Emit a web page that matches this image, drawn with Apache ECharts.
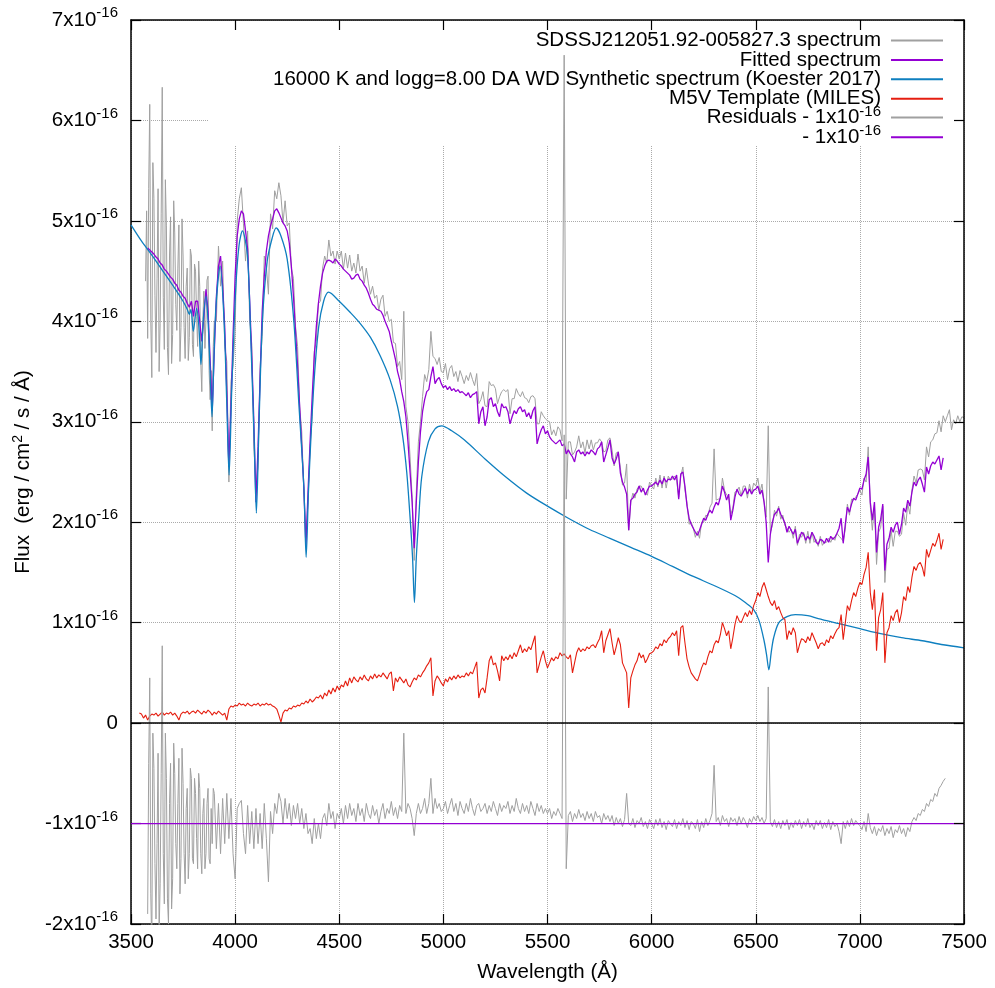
<!DOCTYPE html>
<html><head><meta charset="utf-8">
<script src="https://cdn.jsdelivr.net/npm/echarts@6/dist/echarts.min.js"></script>
<style>html,body{margin:0;padding:0;background:#fff;overflow:hidden}#chart{width:995px;height:988px}</style>
</head><body><div id="chart"></div>
<script>
// Flux values in units of 1e-16 erg/cm2/s/A
const wavelengths = [3540,3550,3560,3570,3580,3590,
3600,3610,3620,3630,3640,3650,3660,3670,3680,3690,
3700,3710,3720,3730,3740,3750,3760,3770,3780,3790,
3800,3810,3820,3830,3840,3850,3860,3870,3880,3890,
3900,3910,3920,3930,3940,3950,3960,3970,3980,3990,
4000,4010,4020,4030,4040,4050,4060,4070,4080,4090,
4100,4110,4120,4130,4140,4150,4160,4170,4180,4190,
4200,4210,4220,4230,4240,4250,4260,4270,4280,4290,
4300,4310,4320,4330,4340,4350,4360,4370,4380,4390,
4400,4410,4420,4430,4440,4450,4460,4470,4480,4490,
4500,4510,4520,4530,4540,4550,4560,4570,4580,4590,
4600,4610,4620,4630,4640,4650,4660,4670,4680,4690,
4700,4710,4720,4730,4740,4750,4760,4770,4780,4790,
4800,4810,4820,4830,4840,4850,4860,4870,4880,4890,
4900,4910,4920,4930,4940,4950,4960,4970,4980,4990,
5000,5010,5020,5030,5040,5050,5060,5070,5080,5090,
5100,5110,5120,5130,5140,5150,5160,5170,5180,5190,
5200,5210,5220,5230,5240,5250,5260,5270,5280,5290,
5300,5310,5320,5330,5340,5350,5360,5370,5380,5390,
5400,5410,5420,5430,5440,5450,5460,5470,5480,5490,
5500,5510,5520,5530,5540,5550,5560,5570,5580,5590,
5600,5610,5620,5630,5640,5650,5660,5670,5680,5690,
5700,5710,5720,5730,5740,5750,5760,5770,5780,5790,
5800,5810,5820,5830,5840,5850,5860,5870,5880,5890,
5900,5910,5920,5930,5940,5950,5960,5970,5980,5990,
6000,6010,6020,6030,6040,6050,6060,6070,6080,6090,
6100,6110,6120,6130,6140,6150,6160,6170,6180,6190,
6200,6210,6220,6230,6240,6250,6260,6270,6280,6290,
6300,6310,6320,6330,6340,6350,6360,6370,6380,6390,
6400,6410,6420,6430,6440,6450,6460,6470,6480,6490,
6500,6510,6520,6530,6540,6550,6560,6570,6580,6590,
6600,6610,6620,6630,6640,6650,6660,6670,6680,6690,
6700,6710,6720,6730,6740,6750,6760,6770,6780,6790,
6800,6810,6820,6830,6840,6850,6860,6870,6880,6890,
6900,6910,6920,6930,6940,6950,6960,6970,6980,6990,
7000,7010,7020,7030,7040,7050,7060,7070,7080,7090,
7100,7110,7120,7130,7140,7150,7160,7170,7180,7190,
7200,7210,7220,7230,7240,7250,7260,7270,7280,7290,
7300,7310,7320,7330,7340,7350,7360,7370,7380,7390,
7400,7410,7420,7430,7440,7450,7460,7470,7480,7490,
7500];

// extra in-between wavelengths in the noisy blue end
const blueEndWavelengths = [3575,3585,3595,3605,3615,3625,3635,3645,3655,3665,3675,3685,3695,
3705,3715,3725,3735,3745,3755,3765,3775,3785,3795,3805,3815,3825,3835,3845,3855,3865,3875,3885,3895];

// observed spectrum, starts at 3570
const observedFlux = [4.40,3.83,6.16,
3.44,5.22,3.69,5.32,3.98,6.33,3.72,4.95,3.47,5.04,
3.87,4.88,3.91,4.96,3.94,4.65,3.63,4.53,3.84,4.65,
3.65,4.50,3.75,4.35,3.30,4.30,4.02,4.45,3.22,2.91,
4.00,4.00,4.75,4.35,4.60,3.75,3.60,2.40,3.40,3.55,
3.90,5.00,5.22,5.33,4.97,4.60,4.90,4.00,3.77,2.75,
2.35,2.55,3.55,3.85,4.65,4.55,4.27,5.07,4.92,5.30,
5.22,5.38,5.25,4.98,5.20,4.95,4.98,4.53,4.43,3.95,
3.75,3.15,2.90,2.30,1.85,2.20,2.75,3.05,3.70,3.80,
4.18,4.20,4.53,4.65,4.58,4.81,4.65,4.70,4.57,4.70,
4.62,4.70,4.52,4.68,4.53,4.66,4.50,4.58,4.48,4.67,
4.50,4.55,4.38,4.53,4.38,4.27,4.35,4.23,4.26,4.11,
4.22,4.26,4.05,4.10,4.00,4.02,3.79,3.78,3.55,3.60,
3.42,4.10,3.15,3.00,2.65,2.25,1.62,2.30,2.80,3.00,
3.25,3.47,3.40,3.52,3.90,3.65,3.63,3.57,3.64,3.50,
3.49,3.58,3.42,3.53,3.56,3.45,3.50,3.40,3.51,3.45,
3.38,3.46,3.41,3.49,3.42,3.36,3.48,3.18,3.22,3.30,
3.16,3.15,3.40,3.36,3.37,3.33,3.18,3.25,3.30,3.32,
3.30,3.32,3.08,3.23,3.23,3.33,3.28,3.25,3.30,3.24,
3.23,3.19,3.25,3.26,3.23,2.98,2.98,3.10,3.06,3.03,
3.01,3.00,2.87,2.92,2.86,2.95,2.92,2.81,6.65,2.23,
2.80,2.80,2.67,2.70,2.75,2.86,2.74,2.80,2.69,2.82,
2.73,2.82,2.72,2.79,2.79,2.83,2.80,2.70,2.71,2.82,
2.84,2.72,2.56,2.69,2.70,2.54,2.37,2.39,2.58,1.92,
2.20,2.29,2.24,2.33,2.36,2.36,2.31,2.29,2.27,2.40,
2.36,2.33,2.44,2.35,2.47,2.34,2.46,2.34,2.46,2.42,
2.43,2.46,2.42,2.25,2.46,2.55,2.32,2.19,1.98,2.00,
1.94,1.85,1.91,1.84,2.00,2.00,2.07,2.06,2.15,2.19,
2.73,2.22,2.23,2.23,2.44,2.32,2.27,2.25,2.08,2.14,
2.30,2.31,2.35,2.26,2.36,2.36,2.24,2.38,2.29,2.39,
2.36,2.44,2.30,2.38,2.20,2.05,2.96,1.90,1.97,2.12,
2.06,2.16,2.03,2.07,1.97,1.94,1.90,1.93,1.84,1.96,
1.77,1.88,1.85,1.90,1.79,1.91,1.79,1.90,1.80,1.83,
1.76,1.86,1.77,1.80,1.80,1.84,1.80,1.85,1.82,1.89,
1.86,1.84,1.81,1.93,2.18,2.07,2.23,2.22,2.25,2.28,
2.32,2.27,2.44,2.40,2.75,2.16,1.92,2.17,1.58,1.90,
1.95,2.16,1.40,1.73,1.74,1.92,1.76,1.91,1.91,1.86,
1.88,2.09,1.97,2.18,2.08,2.32,2.46,2.39,2.52,2.53,
2.52,2.42,2.75,2.65,2.80,2.82,2.88,2.89,3.01,2.90,
3.06,3.00,3.06,3.12,2.92,3.02,2.98,3.06,3.00,3.05,
3.04];
// observed values at blueEndWavelengths (3575..3895)
const observedBlueEnd = [5.10,5.32,4.00,5.58,4.26,4.43,3.50,5.07,4.24,5.41,3.74,4.66,3.58,
5.20,4.17,4.53,3.60,5.02,3.94,4.35,3.61,4.72,3.77,4.57,4.05,4.60,3.60,4.02,3.73,4.41,3.51,3.51,3.75];

// fitted spectrum, starts at 3580
const fittedFlux = [4.73,4.71,
4.69,4.67,4.64,4.62,4.58,4.56,4.52,4.50,4.47,4.44,
4.42,4.38,4.36,4.31,4.29,4.25,4.23,4.18,4.14,4.20,
4.05,4.20,4.20,4.00,3.80,4.05,4.32,4.10,3.62,3.11,
3.70,4.25,4.55,4.65,4.35,3.95,3.30,2.55,3.15,3.85,
4.45,4.85,5.02,5.10,5.07,4.90,4.72,4.20,3.65,3.00,
2.20,2.75,3.45,4.10,4.45,4.70,4.85,4.95,5.02,5.10,
5.12,5.08,5.03,4.98,4.95,4.90,4.78,4.55,4.25,3.90,
3.55,3.15,2.75,2.35,1.75,2.30,2.80,3.25,3.65,3.95,
4.18,4.35,4.48,4.55,4.60,4.61,4.60,4.58,4.62,4.60,
4.57,4.55,4.52,4.50,4.48,4.46,4.42,4.43,4.46,4.47,
4.42,4.40,4.36,4.33,4.28,4.22,4.17,4.15,4.12,4.11,
4.10,4.06,4.00,3.95,3.90,3.80,3.71,3.62,3.50,3.42,
3.30,3.20,3.05,2.80,2.50,2.20,1.74,2.20,2.60,2.90,
3.10,3.22,3.30,3.32,3.45,3.55,3.38,3.42,3.44,3.38,
3.34,3.36,3.32,3.35,3.31,3.33,3.30,3.32,3.29,3.30,
3.28,3.26,3.29,3.24,3.27,3.28,3.30,2.98,3.10,3.15,
2.96,3.05,3.22,3.24,3.15,3.18,3.10,3.05,3.18,3.14,
3.15,3.10,2.98,3.05,3.11,3.08,3.13,3.15,3.10,3.12,
3.05,3.09,3.03,3.11,3.15,2.78,2.86,2.92,2.96,2.88,
2.91,2.85,2.82,2.80,2.78,2.80,2.82,2.76,2.78,2.68,
2.72,2.68,2.65,2.60,2.70,2.72,2.68,2.70,2.66,2.70,
2.68,2.72,2.70,2.67,2.73,2.75,2.80,2.60,2.67,2.74,
2.82,2.64,2.58,2.63,2.70,2.49,2.40,2.35,2.28,1.92,
2.22,2.24,2.28,2.30,2.36,2.30,2.34,2.27,2.32,2.36,
2.36,2.38,2.40,2.37,2.42,2.38,2.44,2.40,2.43,2.42,
2.46,2.42,2.47,2.23,2.48,2.50,2.36,2.16,2.04,1.98,
1.94,1.90,1.87,1.92,1.98,2.04,2.02,2.08,2.12,2.09,
2.15,2.20,2.17,2.25,2.36,2.30,2.22,2.28,2.02,2.12,
2.25,2.33,2.28,2.26,2.30,2.34,2.28,2.33,2.28,2.32,
2.33,2.36,2.28,2.32,2.20,2.00,1.60,1.88,2.00,2.08,
2.10,2.14,2.08,2.04,1.99,1.90,1.96,1.92,1.88,1.93,
1.79,1.84,1.90,1.88,1.82,1.86,1.83,1.90,1.86,1.80,
1.78,1.83,1.82,1.79,1.84,1.80,1.86,1.83,1.85,1.89,
1.94,2.04,1.79,1.98,2.15,2.10,2.18,2.24,2.22,2.28,
2.34,2.33,2.42,2.48,2.65,2.20,2.02,2.20,1.70,1.95,
2.03,2.18,1.52,1.78,1.84,1.95,1.90,1.97,2.00,1.88,
1.98,2.14,2.10,2.22,2.16,2.30,2.40,2.36,2.42,2.45,
2.38,2.30,2.55,2.48,2.56,2.60,2.58,2.62,2.66,2.52,
2.64];

// M5V template, starts at 3540
const templateFlux = [0.10,0.09,0.05,0.08,0.03,0.07,
0.09,0.08,0.10,0.07,0.09,0.11,0.08,0.10,0.09,0.11,
0.08,0.10,0.07,0.03,0.09,0.11,0.10,0.12,0.09,0.11,
0.12,0.10,0.13,0.11,0.09,0.12,0.10,0.13,0.11,0.08,
0.11,0.09,0.12,0.10,0.08,0.10,0.03,0.14,0.17,0.16,
0.18,0.17,0.20,0.18,0.19,0.17,0.20,0.18,0.17,0.19,
0.18,0.20,0.17,0.19,0.18,0.20,0.18,0.19,0.17,0.16,
0.14,0.08,0.01,0.10,0.13,0.12,0.15,0.14,0.17,0.16,
0.18,0.17,0.20,0.19,0.22,0.20,0.24,0.21,0.23,0.26,
0.25,0.28,0.24,0.30,0.27,0.33,0.29,0.35,0.31,0.37,
0.33,0.38,0.36,0.42,0.37,0.45,0.40,0.46,0.43,0.41,
0.46,0.43,0.48,0.44,0.42,0.47,0.44,0.49,0.45,0.48,
0.46,0.50,0.47,0.44,0.49,0.51,0.32,0.45,0.41,0.46,
0.43,0.40,0.44,0.38,0.36,0.41,0.45,0.43,0.48,0.46,
0.50,0.53,0.57,0.60,0.65,0.27,0.42,0.47,0.44,0.40,
0.37,0.44,0.41,0.46,0.43,0.47,0.44,0.48,0.45,0.47,
0.46,0.50,0.47,0.51,0.49,0.55,0.61,0.25,0.33,0.35,
0.30,0.45,0.62,0.67,0.58,0.60,0.52,0.42,0.67,0.62,
0.66,0.63,0.68,0.64,0.70,0.66,0.72,0.78,0.70,0.74,
0.71,0.76,0.73,0.80,0.87,0.50,0.58,0.66,0.72,0.62,
0.55,0.60,0.65,0.62,0.66,0.64,0.70,0.67,0.69,0.66,
0.64,0.68,0.50,0.60,0.70,0.75,0.71,0.74,0.72,0.76,
0.74,0.77,0.78,0.75,0.80,0.84,0.92,0.70,0.82,0.88,
0.94,0.80,0.68,0.76,0.85,0.78,0.60,0.55,0.50,0.15,
0.45,0.52,0.58,0.62,0.70,0.65,0.68,0.60,0.64,0.69,
0.70,0.72,0.76,0.74,0.79,0.77,0.83,0.80,0.84,0.86,
0.90,0.87,0.92,0.67,0.95,0.97,0.80,0.64,0.56,0.50,
0.47,0.44,0.42,0.48,0.55,0.60,0.58,0.66,0.72,0.70,
0.78,0.82,0.80,0.88,1.00,0.94,0.87,0.92,0.74,0.85,
0.98,1.07,1.02,1.00,1.05,1.10,1.06,1.12,1.08,1.17,
1.22,1.30,1.26,1.35,1.40,1.33,1.26,1.20,1.17,1.22,
1.13,1.16,1.10,1.05,1.03,0.83,0.92,0.88,0.95,0.90,
0.70,0.78,0.84,0.83,0.80,0.86,0.82,0.90,0.85,0.80,
0.74,0.79,0.80,0.77,0.83,0.80,0.87,0.84,0.89,0.93,
0.95,1.08,0.83,1.00,1.17,1.12,1.22,1.30,1.26,1.34,
1.40,1.38,1.48,1.55,1.70,1.30,1.13,1.33,0.72,1.05,
1.13,1.30,0.60,0.90,0.95,1.07,1.02,1.10,1.13,1.00,
1.10,1.26,1.22,1.36,1.30,1.45,1.56,1.52,1.58,1.60,
1.55,1.46,1.73,1.65,1.72,1.79,1.76,1.82,1.89,1.73,
1.83];

// residuals (already offset by -1e-16), starts at 3580
const residualFlux = [-1.90,0.45,
-2.25,-0.45,-1.95,-0.30,-1.60,0.77,-1.80,-0.55,-2.00,-0.40,
-1.55,-0.50,-1.45,-0.35,-1.35,-0.60,-1.60,-0.65,-1.30,-0.55,
-1.40,-0.70,-1.45,-0.65,-1.50,-0.75,-1.30,-0.65,-1.40,-1.20,
-0.70,-1.25,-0.80,-1.30,-0.75,-1.20,-0.70,-1.15,-0.75,-1.30,
-1.55,-0.85,-0.80,-0.77,-1.10,-1.30,-0.82,-1.20,-0.88,-1.25,
-0.85,-1.20,-0.90,-1.25,-0.80,-1.15,-1.58,-0.88,-1.10,-0.80,
-0.90,-0.70,-0.78,-1.00,-0.75,-0.95,-0.80,-1.02,-0.82,-0.95,
-0.80,-1.00,-0.85,-1.05,-0.90,-1.10,-1.05,-1.20,-0.95,-1.15,
-1.00,-1.15,-0.95,-0.90,-1.02,-0.80,-0.95,-0.88,-1.05,-0.90,
-0.95,-0.85,-1.00,-0.82,-0.95,-0.80,-0.92,-0.85,-0.98,-0.80,
-0.92,-0.85,-0.98,-0.80,-0.90,-0.95,-0.82,-0.92,-0.86,-1.00,
-0.88,-0.80,-0.95,-0.85,-0.90,-0.78,-0.92,-0.84,-0.95,-0.82,
-0.88,-0.10,-0.90,-0.80,-0.85,-0.95,-1.12,-0.90,-0.80,-0.90,
-0.85,-0.75,-0.90,-0.80,-0.55,-0.90,-0.75,-0.85,-0.80,-0.88,
-0.85,-0.78,-0.90,-0.82,-0.75,-0.88,-0.80,-0.92,-0.78,-0.85,
-0.90,-0.80,-0.88,-0.75,-0.85,-0.92,-0.82,-0.80,-0.88,-0.85,
-0.80,-0.90,-0.82,-0.88,-0.78,-0.85,-0.92,-0.80,-0.88,-0.82,
-0.85,-0.78,-0.90,-0.82,-0.88,-0.75,-0.85,-0.90,-0.80,-0.88,
-0.82,-0.90,-0.78,-0.85,-0.92,-0.80,-0.88,-0.82,-0.90,-0.85,
-0.90,-0.85,-0.95,-0.88,-0.92,-0.85,-0.90,-0.95,2.87,-1.45,
-0.92,-0.88,-0.98,-0.90,-0.95,-0.86,-0.94,-0.90,-0.97,-0.88,
-0.95,-0.90,-0.98,-0.88,-0.94,-0.92,-1.00,-0.90,-0.96,-0.92,
-0.98,-0.92,-1.02,-0.94,-1.00,-0.95,-1.03,-0.96,-0.70,-1.00,
-1.02,-0.95,-1.04,-0.97,-1.00,-0.94,-1.03,-0.98,-1.05,-0.96,
-1.00,-1.05,-0.96,-1.02,-0.95,-1.04,-0.98,-1.06,-0.97,-1.00,
-1.03,-0.96,-1.05,-0.98,-1.02,-0.95,-1.04,-0.97,-1.06,-0.98,
-1.00,-1.05,-0.96,-1.08,-0.98,-1.04,-0.95,-1.02,-0.97,-0.90,
-0.42,-0.98,-0.94,-1.02,-0.92,-0.98,-0.95,-1.03,-0.94,-0.98,
-0.95,-1.02,-0.93,-1.00,-0.94,-0.98,-1.04,-0.95,-0.99,-0.93,
-0.97,-0.92,-0.98,-0.94,-1.00,-0.95,0.36,-0.98,-1.03,-0.96,
-1.04,-0.98,-1.05,-0.97,-1.02,-0.96,-1.06,-0.99,-1.04,-0.97,
-1.02,-0.96,-1.05,-0.98,-1.03,-0.95,-1.04,-1.00,-1.06,-0.97,
-1.02,-0.97,-1.05,-0.99,-1.04,-0.96,-1.06,-0.98,-1.03,-1.00,
-1.08,-1.20,-0.98,-1.05,-0.97,-1.03,-0.95,-1.02,-0.97,-1.00,
-1.02,-1.06,-0.98,-1.08,-0.90,-1.04,-1.10,-1.03,-1.12,-1.05,
-1.08,-1.02,-1.12,-1.05,-1.10,-1.03,-1.14,-1.06,-1.09,-1.02,
-1.10,-1.05,-1.13,-1.04,-1.08,-0.98,-0.94,-0.97,-0.90,-0.92,
-0.86,-0.88,-0.80,-0.83,-0.76,-0.78,-0.70,-0.73,-0.65,-0.62,
-0.58,-0.55];
// residual values at blueEndWavelengths from 3585 (3585..3895)
const residualBlueEnd = [-0.40,-1.70,-0.10,-1.40,-1.20,-2.10,-0.50,-1.30,-0.10,-1.75,-0.80,-1.85,
-0.20,-1.20,-0.80,-1.70,-0.25,-1.30,-0.85,-1.55,-0.45,-1.35,-0.55,-1.15,-0.50,-1.30,-0.90,-1.45,-0.80,-1.35,-0.85,-0.65];

// DA white dwarf synthetic spectrum [wavelength, flux]
const wdModel = [[3500,4.96],[3550,4.80],[3600,4.66],[3650,4.51],[3700,4.36],[3750,4.20],
[3770,4.12],[3780,4.07],[3788,4.12],[3799,3.90],[3815,4.13],[3826,3.95],[3836,3.57],[3846,3.98],
[3860,4.25],[3870,4.00],[3880,3.50],[3889,3.05],[3897,3.55],[3908,4.15],[3928,4.55],[3947,4.00],
[3960,3.18],[3971,2.47],[3984,3.34],[4003,4.33],[4019,4.76],[4035,4.90],[4059,4.66],[4075,3.84],
[4091,2.85],[4102,2.09],[4115,3.01],[4131,4.00],[4154,4.60],[4178,4.83],[4197,4.93],[4220,4.85],
[4250,4.62],[4282,4.00],[4306,3.18],[4330,2.35],[4341,1.65],[4353,2.35],[4377,3.34],[4401,3.94],
[4425,4.20],[4449,4.29],[4500,4.20],[4552,4.09],[4600,3.98],[4650,3.84],[4696,3.66],[4744,3.42],
[4780,3.15],[4805,2.85],[4824,2.50],[4840,2.05],[4852,1.65],[4861,1.20],[4870,1.65],[4882,2.05],
[4896,2.45],[4928,2.80],[4960,2.93],[4992,2.96],[5040,2.91],[5100,2.82],[5200,2.63],[5300,2.45],
[5400,2.29],[5500,2.16],[5600,2.04],[5700,1.93],[5800,1.84],[5900,1.75],[6000,1.66],[6100,1.56],
[6200,1.46],[6300,1.37],[6400,1.27],[6450,1.20],[6490,1.13],[6516,1.02],[6540,0.82],[6552,0.68],
[6563,0.53],[6574,0.70],[6586,0.85],[6611,1.00],[6650,1.06],[6690,1.08],[6750,1.07],[6800,1.04],
[6900,0.99],[7000,0.94],[7100,0.89],[7200,0.85],[7300,0.82],[7400,0.78],[7500,0.75]];

const offsetLine = [[3500,-1],[7500,-1]];
const xTicks = {min:3500, max:7500, step:500};
const yTicks = {min:-2, max:7, step:1};
const seriesNames = ['SDSSJ212051.92-005827.3 spectrum','Fitted spectrum',
  '16000 K and logg=8.00 DA WD Synthetic spectrum (Koester 2017)','M5V Template (MILES)',
  'Residuals - 1x10-16',' - 1x10-16'];

function onGrid(grid, startWl, values){
  const k = grid.indexOf(startWl);
  return values.map((v,i)=>[grid[k+i], v]);
}
function merged(a, b){ return a.concat(b).sort((p,q)=>p[0]-q[0]); }

const FONT = "'Liberation Sans', Arial, Helvetica, sans-serif";
const FS = 20.5;
const chart = echarts.init(document.getElementById('chart'), null, {renderer:'canvas', width:995, height:988});
const line = (name, data, color, width, extra) => Object.assign({
  name, type:'line', data, symbol:'none', showSymbol:false, animation:false,
  lineStyle:{color, width}, itemStyle:{color}, emphasis:{disabled:true}, z:2
}, extra||{});

const supRich = {
  m:{fontSize:FS, fontFamily:FONT, color:'#000'},
  s:{fontSize:15, fontFamily:FONT, color:'#000', padding:[0,0,14,0]}
};
const legendText = {fontSize:FS, fontFamily:FONT, color:'#000', lineHeight:19.2, padding:[0,5,0,0],
  rich:{m:{fontSize:FS, fontFamily:FONT, color:'#000', lineHeight:19.2},
        s:{fontSize:15, fontFamily:FONT, color:'#000', lineHeight:6, padding:[0,0,12,0]}}};
const legendFormatter = (name)=>{
  if(name==='Residuals - 1x10-16') return '{m|Residuals - 1x10}{s|-16}';
  if(name===' - 1x10-16') return '{m| - 1x10}{s|-16}';
  return '{m|'+name+'}';
};
const legendBase = {orient:'vertical', right:46, align:'right', selectedMode:false,
  itemWidth:52, itemHeight:10, itemStyle:{opacity:0}, formatter:legendFormatter, textStyle:legendText};

chart.setOption({
  backgroundColor:'#fff',
  animation:false,
  grid:{left:131, right:31, top:20, bottom:59, containLabel:false},
  graphic:[{type:'rect', z:1, shape:{x:208, y:21, width:755, height:124}, style:{fill:'#fff'}}],
  legend:[
    Object.assign({}, legendBase, {top:25, itemGap:-1.6, data:seriesNames.slice(0,4)}),
    Object.assign({}, legendBase, {top:99, itemGap:-7.2, data:seriesNames.slice(4)})
  ],
  xAxis:[{
    type:'value', min:xTicks.min, max:xTicks.max, interval:xTicks.step,
    name:'Wavelength (Å)', nameLocation:'middle', nameGap:38,
    nameTextStyle:{fontSize:FS, fontFamily:FONT, color:'#000'},
    axisLine:{show:true, onZero:false, lineStyle:{color:'#000', width:1.5}},
    axisTick:{show:true, inside:true, length:10, lineStyle:{color:'#000', width:1.2}},
    axisLabel:{fontSize:FS, fontFamily:FONT, color:'#000', margin:8, formatter:(v)=>String(v)},
    splitLine:{show:true, lineStyle:{color:'#aaaaaa', type:'dotted', width:1}}
  },{
    type:'value', position:'top', min:xTicks.min, max:xTicks.max, interval:xTicks.step, z:3,
    axisLine:{show:true, onZero:false, lineStyle:{color:'#000', width:1.5}},
    axisTick:{show:true, inside:true, length:10, lineStyle:{color:'#000', width:1.2}},
    axisLabel:{show:false}, splitLine:{show:false}
  }],
  yAxis:[{
    type:'value', min:yTicks.min, max:yTicks.max, interval:yTicks.step,
    name:'{m|Flux  (erg / cm}{s|2}{m| / s / Å)}', nameLocation:'middle', nameGap:83, nameRotate:90,
    nameTextStyle:{fontSize:FS, fontFamily:FONT, color:'#000',
      rich:{m:{fontSize:FS, fontFamily:FONT, color:'#000'}, s:{fontSize:14, fontFamily:FONT, color:'#000', padding:[0,0,10,0]}}},
    axisLine:{show:true, onZero:false, lineStyle:{color:'#000', width:1.5}},
    axisTick:{show:true, inside:true, length:10, lineStyle:{color:'#000', width:1.2}},
    axisLabel:{margin:13, formatter:(v)=> v===0 ? '{m|0}' : '{m|'+v+'x10}{s|-16}', rich:supRich},
    splitLine:{show:true, lineStyle:{color:'#aaaaaa', type:'dotted', width:1}}
  },{
    type:'value', position:'right', min:yTicks.min, max:yTicks.max, interval:yTicks.step, z:3,
    axisLine:{show:true, onZero:false, lineStyle:{color:'#000', width:1.5}},
    axisTick:{show:true, inside:true, length:10, lineStyle:{color:'#000', width:1.2}},
    axisLabel:{show:false}, splitLine:{show:false}
  }],
  series:[
    line(seriesNames[0], merged(onGrid(wavelengths, 3570, observedFlux), onGrid(blueEndWavelengths, 3575, observedBlueEnd)), '#a0a0a0', 1),
    line(seriesNames[1], onGrid(wavelengths, 3580, fittedFlux), '#9400d3', 1.3),
    line(seriesNames[2], wdModel, '#0e7fbf', 1.3, {smooth:0.3}),
    line(seriesNames[3], onGrid(wavelengths, 3540, templateFlux), '#e51e10', 1.1),
    line(seriesNames[4], merged(onGrid(wavelengths, 3580, residualFlux), onGrid(blueEndWavelengths, 3585, residualBlueEnd)), '#a0a0a0', 1),
    line(seriesNames[5], offsetLine, '#9400d3', 1.3, {
      markLine:{silent:true, symbol:['none','none'], label:{show:false}, animation:false,
        lineStyle:{color:'#000', width:1.5, type:'solid'}, data:[{yAxis:0}]}
    })
  ]
});
</script></body></html>
